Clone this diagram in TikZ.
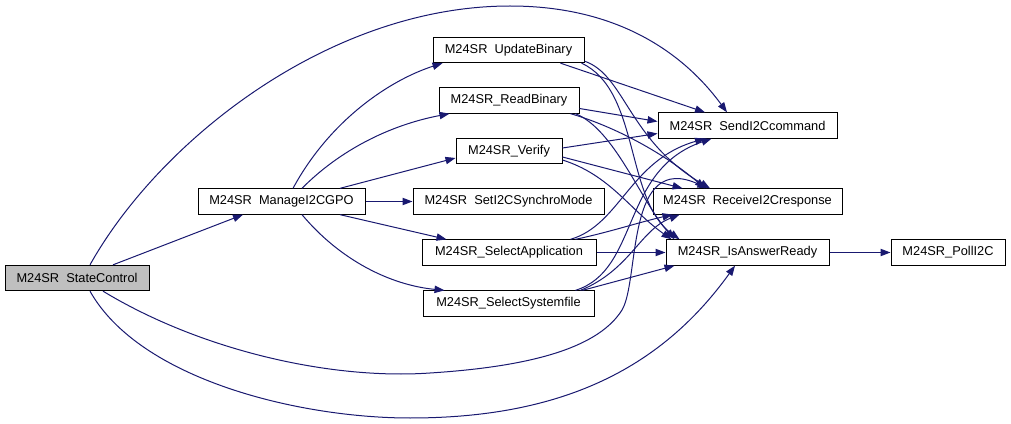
\documentclass[tikz,border=0pt]{standalone}
\usepackage{fontspec}
\setmainfont{Liberation Sans}
\usetikzlibrary{arrows.meta,calc}
\definecolor{edgeblue}{HTML}{191970}
\definecolor{rootgray}{HTML}{BFBFBF}
\newcommand{\us}{\hphantom{\_}}
\begin{document}
\begin{tikzpicture}[x=0.75pt,y=-0.75pt,
  fbox/.style={draw=black,line width=0.75pt,fill=white,inner sep=0pt,minimum height=19pt,
    font=\fontsize{9.6pt}{11pt}\selectfont},
  call/.style={draw=edgeblue,line width=0.75pt,-{Triangle[length=7.5pt,width=5.5pt]}}]
\useasboundingbox (0,0) rectangle (1011,424);
% nodes
\node[fbox,fill=rootgray,minimum width=108pt] (SC) at (77,278) {M24SR\us StateControl};
\node[fbox,minimum width=125.25pt] (MG) at (281.5,201.5) {M24SR\us ManageI2CGPO};
\node[fbox,minimum width=113.25pt] (UB) at (508.5,50) {M24SR\us UpdateBinary};
\node[fbox,minimum width=105pt] (RB) at (509,100.5) {M24SR\_ReadBinary};
\node[fbox,minimum width=79.5pt] (VF) at (509,151) {M24SR\_Verify};
\node[fbox,minimum width=143.25pt] (SM) at (508.5,201.5) {M24SR\us SetI2CSynchroMode};
\node[fbox,minimum width=130.5pt] (SA) at (509,252.5) {M24SR\_SelectApplication};
\node[fbox,minimum width=128.25pt] (SS) at (508.5,303.5) {M24SR\_SelectSystemfile};
\node[fbox,minimum width=134.25pt] (SD) at (747.5,125.5) {M24SR\us SendI2Ccommand};
\node[fbox,minimum width=141.75pt] (RC) at (747.5,201.5) {M24SR\us ReceiveI2Cresponse};
\node[fbox,minimum width=122.25pt] (IA) at (747.5,252.5) {M24SR\_IsAnswerReady};
\node[fbox,minimum width=85.5pt] (PL) at (948,252.5) {M24SR\_PollI2C};
% StateControl
\draw[call] ($(SC.north)+(36,0)$) -- ($(MG.south)+(-38.5,0)$);
\draw[call] ($(SC.north)+(13,0)$) .. controls (160,140) and (330,6) .. (510,6)
   .. controls (620,6) and (685,55) .. ($(SD.north)+(-20.5,0)$);
\draw[call] ($(SC.south)+(26,0)$) .. controls (200,350) and (330,380) .. (430,373)
   .. controls (540,366) and (600,345) .. (622,310)
   .. controls (640,280) and (625,150) .. ($(RC.north)+(-40,0)$);
\draw[call] ($(SC.south)+(13,0)$) .. controls (140,380) and (300,418) .. (410,418)
   .. controls (560,418) and (660,370) .. ($(IA.south)+(-12.5,0)$);
% ManageI2CGPO
\draw[call] ($(MG.north)+(11.5,0)$) .. controls (330,120) and (390,80) .. ($(UB.south west)+(10,0)$);
\draw[call] ($(MG.north)+(20.5,0)$) .. controls (340,150) and (390,125) .. ($(RB.south west)+(11,0)$);
\draw[call] ($(MG.north)+(58.5,0)$) -- ($(VF.west)+(0,7)$);
\draw[call] (MG.east) -- (SM.west);
\draw[call] ($(MG.south)+(58.5,0)$) -- ($(SA.north west)+(25,0)$);
\draw[call] ($(MG.south)+(20.5,0)$) .. controls (340,260) and (390,285) .. ($(SS.north west)+(22,0)$);
% UpdateBinary
\draw[call] ($(UB.south east)+(-24,0)$) -- ($(SD.north)+(-42.5,0)$);
\draw[call] ($(UB.south east)+(0,-2)$) .. controls (625,75) and (628,140) .. ($(RC.north)+(-37.5,0)$);
\draw[call] ($(UB.south east)+(-3,0)$) .. controls (640,90) and (625,200) .. ($(IA.north west)+(14,0)$);
% ReadBinary
\draw[call] ($(RB.east)+(0,8)$) -- ($(SD.west)+(0,-4)$);
\draw[call] ($(RB.south east)+(-9,0)$) .. controls (610,125) and (660,150) .. ($(RC.north)+(-42.5,0)$);
\draw[call] ($(RB.south east)+(-4,0)$) .. controls (615,130) and (640,200) .. ($(IA.north west)+(9,0)$);
% Verify
\draw[call] ($(VF.east)+(0,-3)$) -- ($(SD.west)+(0,8)$);
\draw[call] ($(VF.east)+(0,6)$) -- ($(RC.north west)+(30,0)$);
\draw[call] ($(VF.east)+(0,9)$) .. controls (610,175) and (630,210) .. ($(IA.north west)+(6,0)$);
% SelectApplication
\draw[call] (SA.east) -- (IA.west);
\draw[call] ($(SA.north east)+(-26,0)$) .. controls (620,225) and (630,160) .. ($(SD.south)+(-42.5,0)$);
\draw[call] ($(SA.north east)+(-21,0)$) .. controls (610,232) and (640,222) .. ($(RC.south west)+(20,0)$);
% SelectSystemfile
\draw[call] ($(SS.north east)+(-19,0)$) .. controls (640,270) and (620,170) .. ($(SD.south)+(-36,0)$);
\draw[call] ($(SS.north east)+(-14,0)$) .. controls (630,270) and (640,230) .. ($(RC.south west)+(27,0)$);
\draw[call] ($(SS.north east)+(-12,0)$) -- ($(IA.south west)+(9,0)$);
% IsAnswerReady
\draw[call] (IA.east) -- (PL.west);
\end{tikzpicture}
\end{document}
